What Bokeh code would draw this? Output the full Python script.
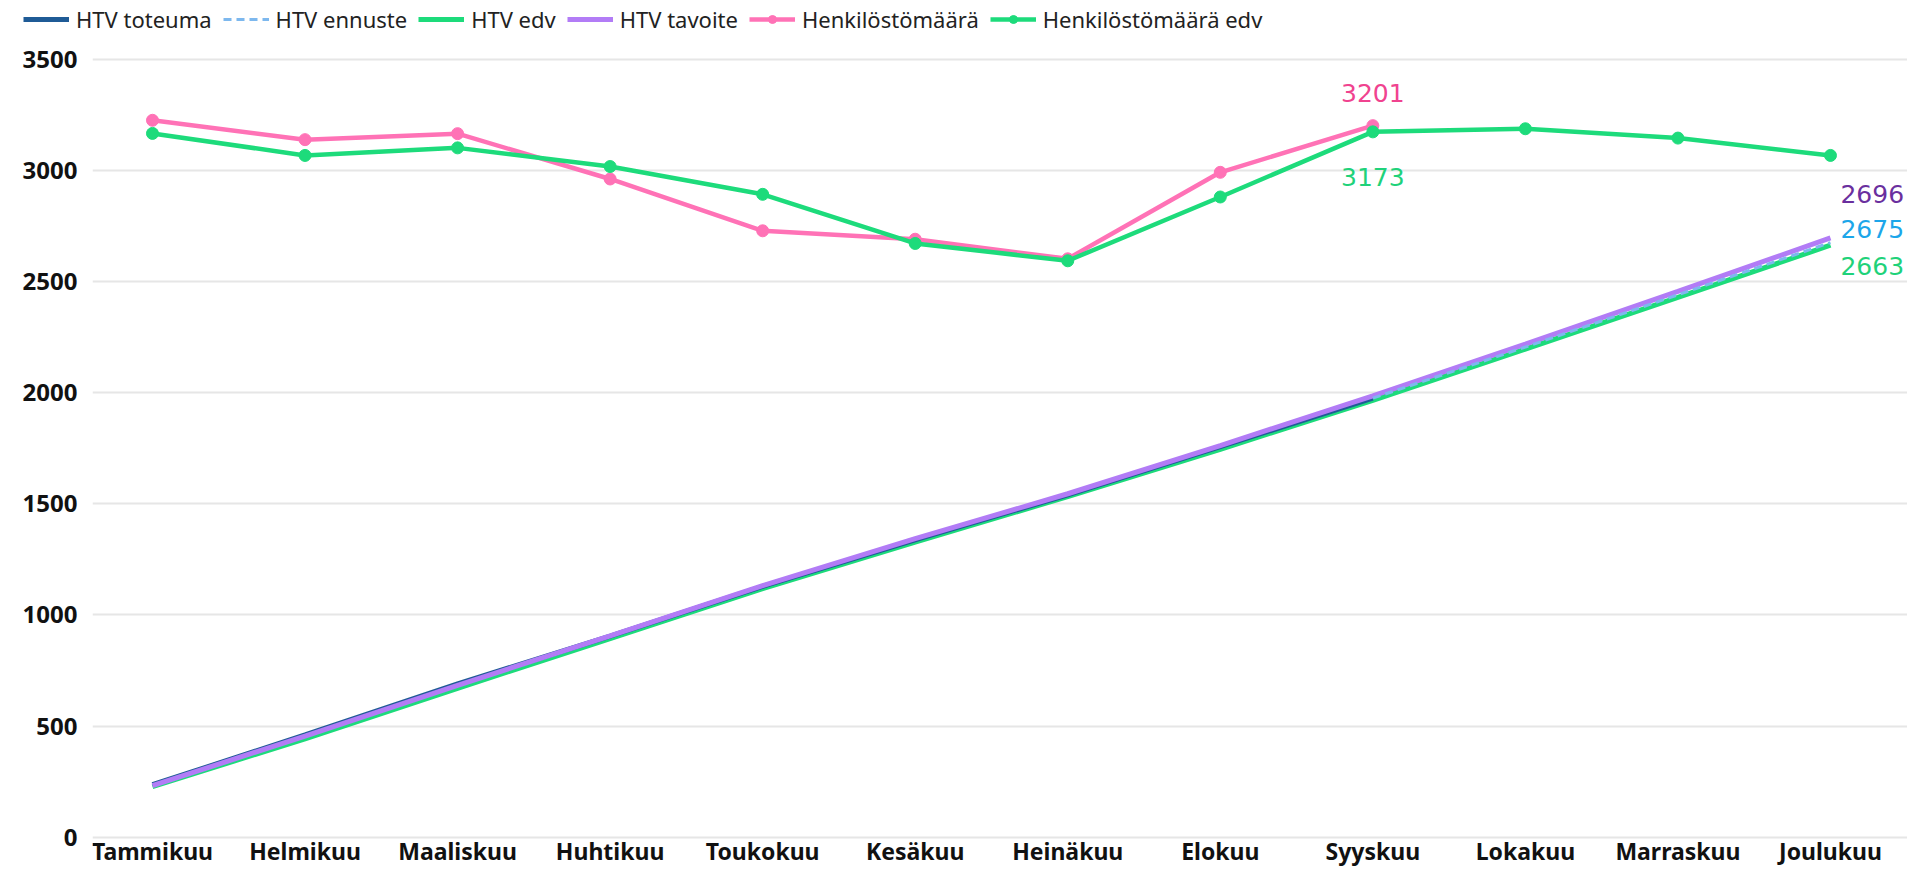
from bokeh.plotting import figure
from bokeh.layouts import column
from bokeh.models import (Range1d, FixedTicker, Legend, LegendItem, Label)
from bokeh.core.properties import value
from bokeh.embed import file_html
from bokeh.resources import INLINE

months = ["Tammikuu", "Helmikuu", "Maaliskuu", "Huhtikuu", "Toukokuu", "Kesäkuu",
          "Heinäkuu", "Elokuu", "Syyskuu", "Lokakuu", "Marraskuu", "Joulukuu"]
y_ticks = [0, 500, 1000, 1500, 2000, 2500, 3000, 3500]

htv_toteuma = [236, 460, 690, 905, 1128, 1338, 1540, 1757, 1975]
htv_ennuste_months = [8, 9, 10, 11]
htv_ennuste = [1975, 2205, 2440, 2675]
htv_edv = [228, 442, 670, 893, 1118, 1328, 1532, 1745, 1965, 2196, 2428, 2663]
htv_tavoite = [232, 455, 683, 906, 1132, 1343, 1545, 1762, 1985, 2218, 2455, 2696]
henkilosto = [3225, 3138, 3165, 2961, 2728, 2690, 2602, 2991, 3201]
henkilosto_edv = [3166, 3067, 3101, 3017, 2892, 2671, 2593, 2880, 3173, 3187, 3145, 3067]

legend_labels = ["HTV toteuma", "HTV ennuste", "HTV edv", "HTV tavoite",
                 "Henkilöstömäärä", "Henkilöstömäärä edv"]

idx = list(range(len(months)))
NAN = float("nan")

C_TOT = "#1f5b96"
C_ENN = "#7db8ee"
C_EDV = "#1ddb7b"
C_TAV = "#b27cf6"
C_PINK = "#ff72b6"

FONT = "Noto Sans"
LBL_FONT = "DejaVu Sans"

HTV_W = 5
HEN_W = 4.5
MARK = 12

W = 1907


def style_series(fig, with_data):
    """Create the six series on fig; with_data=False gives invisible legend proxies."""
    def d(xs, ys):
        return (xs, ys) if with_data else ([NAN], [NAN])
    r_edv = fig.line(*d(idx, htv_edv), line_color=C_EDV, line_width=HTV_W)
    r_tot = fig.line(*d(idx[:len(htv_toteuma)], htv_toteuma), line_color=C_TOT,
                     line_width=HTV_W)
    r_tav = fig.line(*d(idx, htv_tavoite), line_color=C_TAV, line_width=HTV_W)
    r_enn = fig.line(*d(htv_ennuste_months, htv_ennuste), line_color=C_ENN,
                     line_width=3, line_dash="8 5")
    r_pl = fig.line(*d(idx[:len(henkilosto)], henkilosto), line_color=C_PINK,
                    line_width=HEN_W)
    r_pm = fig.scatter(*d(idx[:len(henkilosto)], henkilosto), size=MARK,
                       fill_color=C_PINK, line_color=C_PINK)
    r_gl = fig.line(*d(idx, henkilosto_edv), line_color=C_EDV, line_width=HEN_W)
    r_gm = fig.scatter(*d(idx, henkilosto_edv), size=MARK, fill_color=C_EDV,
                       line_color=C_EDV)
    return [[r_tot], [r_enn], [r_edv], [r_tav], [r_pl, r_pm], [r_gl, r_gm]]


# ---- legend strip ----
leg_fig = figure(width=W, height=34, output_backend="svg", toolbar_location=None,
                 x_range=Range1d(0, 1), y_range=Range1d(0, 1),
                 x_axis_location=None, y_axis_location=None,
                 min_border_left=0, min_border_right=0, min_border_top=0,
                 min_border_bottom=0)
if "frame_align" in leg_fig.properties():
    leg_fig.frame_align = False
leg_fig.outline_line_color = None
leg_fig.xgrid.grid_line_color = None
leg_fig.ygrid.grid_line_color = None
proxies = style_series(leg_fig, False)
legend = Legend(items=[LegendItem(label=lab, renderers=rs)
                       for lab, rs in zip(legend_labels, proxies)],
                orientation="horizontal", location=(23, 0), glyph_width=46,
                glyph_height=20, label_standoff=7, spacing=11, padding=0, margin=0,
                label_text_font=FONT, label_text_font_size="22px",
                label_text_color="#222222", border_line_color=None,
                background_fill_alpha=0)
leg_fig.add_layout(legend)

# ---- main chart ----
p = figure(width=W, height=835, output_backend="svg", toolbar_location=None,
           x_range=Range1d(-0.3933, 11.505), y_range=Range1d(-145.3, 3611),
           min_border_left=92, min_border_right=0, min_border_top=0,
           min_border_bottom=0)
if "frame_align" in p.properties():
    p.frame_align = False
p.outline_line_color = None
p.xgrid.grid_line_color = None
p.ygrid.grid_line_color = "#e6e6e6"
p.ygrid.grid_line_width = 2

p.yaxis.ticker = FixedTicker(ticks=y_ticks)
p.xaxis.ticker = FixedTicker(ticks=idx)
p.xaxis.visible = False
ax = p.yaxis[0]
ax.axis_line_color = None
ax.major_tick_line_color = None
ax.minor_tick_line_color = None
ax.major_tick_out = 0
ax.major_tick_in = 0
ax.minor_tick_out = 0
ax.major_label_text_font = FONT
ax.major_label_text_font_style = "bold"
ax.major_label_text_color = "#111111"
ax.major_label_text_font_size = "24px"
ax.major_label_standoff = 15

style_series(p, True)

# month (category) labels placed through the x scale, just under the zero line
p.text(x=idx, y=[0] * len(idx), text=months, y_offset=14,
       text_align="center", text_baseline="middle",
       text_font=value(FONT), text_font_style="bold", text_font_size="23px",
       text_color="#111111")

last_h = len(henkilosto) - 1
p.add_layout(Label(x=last_h, y=henkilosto[last_h], text=str(henkilosto[last_h]),
                   x_offset=0, y_offset=33, text_align="center", text_baseline="middle",
                   text_font=LBL_FONT, text_font_size="25px", text_color="#f0438f"))
p.add_layout(Label(x=last_h, y=henkilosto_edv[last_h], text=str(henkilosto_edv[last_h]),
                   x_offset=0, y_offset=-45, text_align="center", text_baseline="middle",
                   text_font=LBL_FONT, text_font_size="25px", text_color="#1fd27a"))

end_labels = [(htv_tavoite[-1], 44, "#6a2f9e"),
              (htv_ennuste[-1], 14, "#1ca6ea"),
              (htv_edv[-1], -21, "#1fd27a")]
for val, off, col in end_labels:
    p.add_layout(Label(x=idx[-1], y=val, text=str(val), x_offset=10, y_offset=off,
                       text_align="left", text_baseline="middle",
                       text_font=LBL_FONT, text_font_size="25px", text_color=col))

layout = column(leg_fig, p, spacing=0)
open("out.html", "w").write(file_html(layout, INLINE))
